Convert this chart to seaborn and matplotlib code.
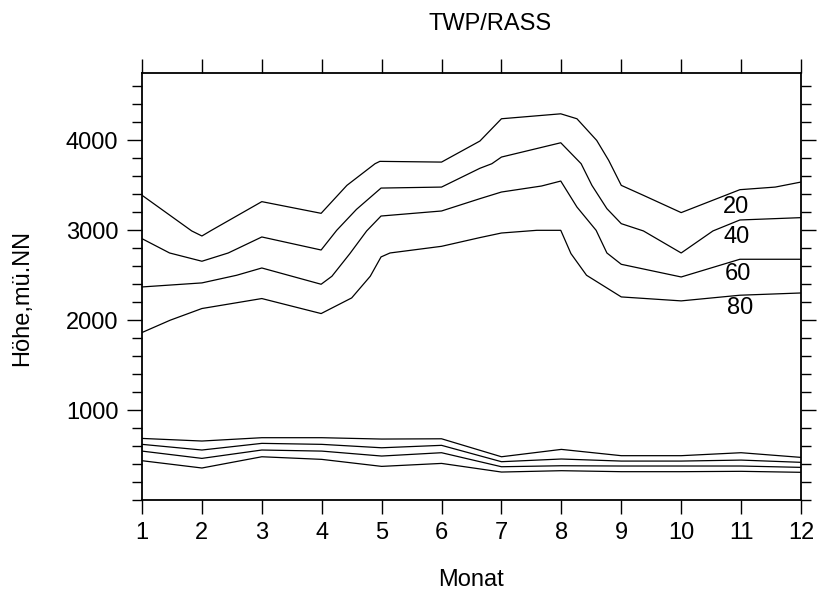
import matplotlib
matplotlib.use("Agg")
import matplotlib.pyplot as plt
from matplotlib.ticker import MultipleLocator
import seaborn as sns
import pandas as pd

# ---- data ----
months = [1, 2, 3, 4, 5, 6, 7, 8, 9, 10, 11, 12]

l20_x = [1.0, 1.83, 2.0, 2.16, 3.0, 3.99, 4.42, 4.89, 4.97, 6.0, 6.64, 7.0, 7.99, 8.26, 8.59, 8.79, 9.0, 9.37, 10.0, 10.98, 11.57, 12.0]
l20_y = [3390, 2993, 2937, 3000, 3319, 3189, 3500, 3741, 3767, 3759, 3993, 4241, 4296, 4241, 4000, 3778, 3500, 3389, 3197, 3452, 3481, 3537]

l40_x = [1.0, 1.46, 2.0, 2.44, 3.0, 3.99, 4.25, 4.58, 4.99, 6.0, 6.64, 6.84, 7.0, 7.99, 8.33, 8.51, 8.76, 9.0, 9.37, 10.0, 10.53, 10.98, 12.0]
l40_y = [2907, 2748, 2656, 2748, 2926, 2781, 3000, 3233, 3470, 3481, 3690, 3741, 3815, 3974, 3741, 3500, 3241, 3074, 2993, 2748, 2993, 3115, 3141]

l60_x = [1.0, 2.0, 2.58, 3.0, 3.99, 4.17, 4.47, 4.75, 4.99, 6.0, 6.64, 7.0, 7.67, 7.99, 8.26, 8.58, 8.76, 9.0, 10.0, 10.98, 12.0]
l60_y = [2370, 2415, 2500, 2581, 2400, 2489, 2741, 2993, 3159, 3215, 3352, 3426, 3493, 3548, 3259, 3000, 2748, 2622, 2481, 2678, 2678]

l80_x = [1.0, 1.47, 2.0, 3.0, 3.99, 4.5, 4.81, 4.99, 5.14, 6.0, 6.64, 7.0, 7.59, 7.99, 8.16, 8.42, 9.0, 10.0, 10.98, 12.0]
l80_y = [1863, 2000, 2130, 2241, 2074, 2248, 2489, 2704, 2748, 2822, 2919, 2970, 3000, 3000, 2741, 2500, 2259, 2215, 2278, 2303]

low_a = [685, 656, 693, 693, 678, 681, 481, 563, 493, 493, 526, 474]
low_b = [619, 556, 630, 619, 581, 608, 426, 456, 433, 433, 444, 419]
low_c = [544, 463, 556, 544, 489, 526, 370, 381, 378, 378, 378, 363]
low_d = [437, 356, 481, 452, 374, 407, 311, 326, 315, 315, 319, 308]

contour_labels = ["20", "40", "60", "80"]
label_x = [10.92, 10.93, 10.95, 10.99]
label_y = [3256, 2922, 2511, 2133]

x_ticks = months
y_ticks = [1000, 2000, 3000, 4000]

# ---- figure ----
sns.set_style("ticks")
plt.rcParams["font.family"] = ["Liberation Sans", "DejaVu Sans"]
plt.rcParams["text.color"] = "black"

fig = plt.figure(figsize=(8.19, 6.01), dpi=100)
ax = fig.add_axes([142 / 819, 101 / 601, 659 / 819, 427 / 601])

lw = 0.9
for xs, ys in [(l20_x, l20_y), (l40_x, l40_y), (l60_x, l60_y), (l80_x, l80_y)]:
    df = pd.DataFrame({"x": xs, "y": ys})
    sns.lineplot(data=df, x="x", y="y", ax=ax, color="black", linewidth=lw,
                 estimator=None, sort=False)
for ys in [low_a, low_b, low_c, low_d]:
    df = pd.DataFrame({"x": months, "y": ys})
    sns.lineplot(data=df, x="x", y="y", ax=ax, color="black", linewidth=lw,
                 estimator=None, sort=False)

for t, lx, ly in zip(contour_labels, label_x, label_y):
    ax.text(lx, ly, t, ha="center", va="center", fontsize=17, color="black")

ax.set_xlim(1, 12)
ax.set_ylim(0, 4750)
ax.set_xticks(x_ticks)
ax.set_xticklabels([str(m) for m in x_ticks])
ax.set_yticks(y_ticks)
ax.set_yticklabels([str(v) for v in y_ticks])
ax.yaxis.set_minor_locator(MultipleLocator(200))

ax.set_xlabel("")
ax.set_ylabel("")
for s in ax.spines.values():
    s.set_visible(True)
    s.set_linewidth(1.3)
    s.set_color("black")

ax.tick_params(axis="x", which="major", direction="out", length=10, width=1,
               top=True, bottom=True, labelsize=17, pad=6, colors="black")
ax.tick_params(axis="y", which="major", direction="out", length=11, width=1,
               left=True, right=True, labelsize=17, pad=6, colors="black")
ax.tick_params(axis="y", which="minor", direction="out", length=7, width=1,
               left=True, right=True, colors="black")
ax.grid(False)

fig.text(490 / 819, 1 - 24 / 601, "TWP/RASS", ha="center", va="center",
         fontsize=17, color="black")
fig.text(471 / 819, 1 - 580 / 601, "Monat", ha="center", va="center",
         fontsize=17, color="black")
fig.text(22 / 819, 1 - 298 / 601, "Höhe,mü.NN", ha="center", va="center",
         rotation=90, fontsize=17, color="black")

fig.savefig("out.png", dpi=100)
